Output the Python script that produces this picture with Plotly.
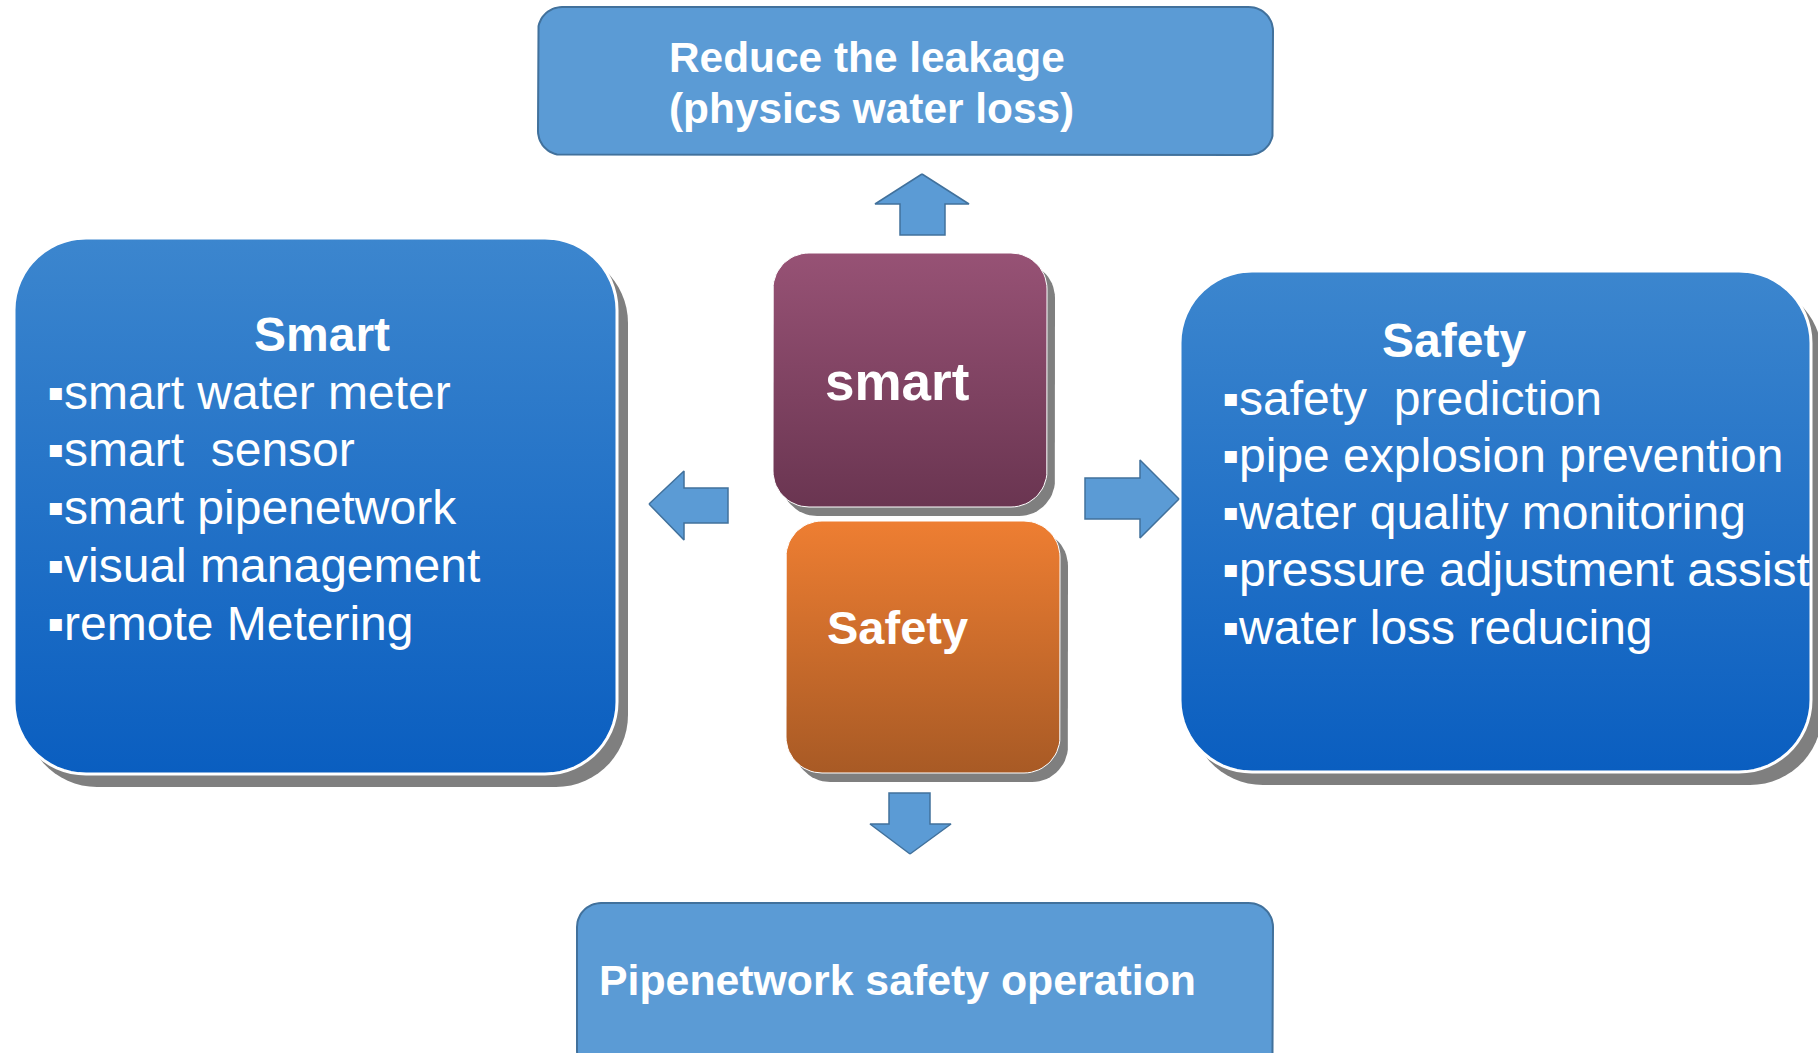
import numpy as np
import plotly.graph_objects as go

# ---------------- content ----------------
top_lines = ["Reduce the leakage", "(physics water loss)"]
bottom_label = "Pipenetwork safety operation"
center_labels = ["smart", "Safety"]
smart_title = "Smart"
smart_items = ["smart water meter", "smart\u00a0 sensor", "smart pipenetwork",
               "visual management", "remote Metering"]
safety_title = "Safety"
safety_items = ["safety\u00a0 prediction", "pipe explosion prevention",
                "water quality monitoring", "pressure adjustment assist",
                "water loss reducing"]
bullet = "\u25aa"

W, H = 1818, 1053
FONT = "Liberation Sans, Arial, sans-serif"

# ---------------- layout geometry (pixels, y downward) ----------------
BOX_TOP = (538, 7, 1273, 155, 24)
BOX_BOTTOM = (577, 903, 1273, 1075, 24)
BOX_LEFT = (14, 238, 617, 774, 72)
BOX_RIGHT = (1180, 271, 1811, 772, 72)
BOX_PURPLE = (773, 253, 1047, 507, 36)
BOX_ORANGE = (786, 521, 1060, 773, 36)

ARROWS = {
    "up": [(922, 174), (969, 204), (945, 204), (945, 235), (900, 235), (900, 204), (875, 204)],
    "left": [(649, 504), (684, 471), (684, 488), (728, 488), (728, 523), (684, 523), (684, 540)],
    "right": [(1179, 499), (1140, 460), (1140, 478), (1085, 478), (1085, 519), (1140, 519), (1140, 538)],
    "down": [(910, 854), (870, 824), (889, 824), (889, 793), (930, 793), (930, 824), (951, 824)],
}


def rrect(x0, y0, x1, y1, r, n=16):
    xs, ys = [], []
    corners = [
        (x1 - r, y0 + r, -np.pi / 2, 0),
        (x1 - r, y1 - r, 0, np.pi / 2),
        (x0 + r, y1 - r, np.pi / 2, np.pi),
        (x0 + r, y0 + r, np.pi, 1.5 * np.pi),
    ]
    for cx, cy, a0, a1 in corners:
        t = np.linspace(a0, a1, n)
        xs.extend(cx + r * np.cos(t))
        ys.extend(cy + r * np.sin(t))
    xs.append(xs[0])
    ys.append(ys[0])
    return xs, ys


fig = go.Figure()


def add_box(box, fill=None, grad=None, line_color="white", line_width=0, shadow=None):
    x0, y0, x1, y1, r = box
    if shadow:
        dx, dy = shadow
        sx, sy = rrect(x0 + dx, y0 + dy, x1 + dx, y1 + dy, r)
        fig.add_trace(go.Scatter(x=sx, y=sy, mode="lines", fill="toself",
                                 fillcolor="#7f7f7f", line=dict(width=0, color="#7f7f7f"),
                                 hoverinfo="skip", showlegend=False))
    xs, ys = rrect(x0, y0, x1, y1, r)
    kw = dict(x=xs, y=ys, mode="lines", fill="toself", hoverinfo="skip", showlegend=False,
              line=dict(width=line_width, color=line_color))
    if grad:
        kw["fillgradient"] = dict(type="vertical", colorscale=[[0, grad[0]], [1, grad[1]]],
                                  start=y0, stop=y1)
    else:
        kw["fillcolor"] = fill
    fig.add_trace(go.Scatter(**kw))


add_box(BOX_TOP, fill="#5b9bd5", line_color="#41719c", line_width=2)
add_box(BOX_BOTTOM, fill="#5b9bd5", line_color="#41719c", line_width=2)
add_box(BOX_LEFT, grad=("#3c86ce", "#0a5ec0"), line_color="white", line_width=3, shadow=(11, 13))
add_box(BOX_RIGHT, grad=("#3c86ce", "#0a5ec0"), line_color="white", line_width=3, shadow=(11, 13))
add_box(BOX_PURPLE, grad=("#975275", "#6a3551"), line_color="white", line_width=1, shadow=(8, 9))
add_box(BOX_ORANGE, grad=("#ee7e32", "#a85a25"), line_color="white", line_width=1, shadow=(8, 9))

for name, pts in ARROWS.items():
    xs = [p[0] for p in pts] + [pts[0][0]]
    ys = [p[1] for p in pts] + [pts[0][1]]
    fig.add_trace(go.Scatter(x=xs, y=ys, mode="lines", fill="toself", fillcolor="#5b9bd5",
                             line=dict(color="#41719c", width=1.5), hoverinfo="skip",
                             showlegend=False))


def txt(x, y, s, size, bold=False, xanchor="left"):
    fig.add_annotation(x=x, y=y, xref="x", yref="y", text=("<b>%s</b>" % s) if bold else s,
                       showarrow=False, xanchor=xanchor, yanchor="middle",
                       font=dict(family=FONT, size=size, color="white"))


txt(667, 57, top_lines[0], 42.4, bold=True)
txt(667, 108, top_lines[1], 42.4, bold=True)
txt(597, 980, bottom_label, 42.8, bold=True)
txt(823, 381, center_labels[0], 53, bold=True)
txt(825, 627, center_labels[1], 47, bold=True)

txt(322, 334, smart_title, 48, bold=True, xanchor="center")
for i, s in enumerate(smart_items):
    txt(45, 392 + i * 57.8, bullet + s, 48)

txt(1454, 340, safety_title, 48, bold=True, xanchor="center")
for i, s in enumerate(safety_items):
    txt(1220, 398 + i * 57.3, bullet + s, 48)

fig.update_layout(
    width=W, height=H, margin=dict(l=0, r=0, t=0, b=0),
    paper_bgcolor="white", plot_bgcolor="white", showlegend=False,
    xaxis=dict(range=[0, W], visible=False, fixedrange=True),
    yaxis=dict(range=[H, 0], visible=False, fixedrange=True),
)

fig.write_html("out.html", config={"displayModeBar": False},
               post_script="document.body.style.margin='0';")
